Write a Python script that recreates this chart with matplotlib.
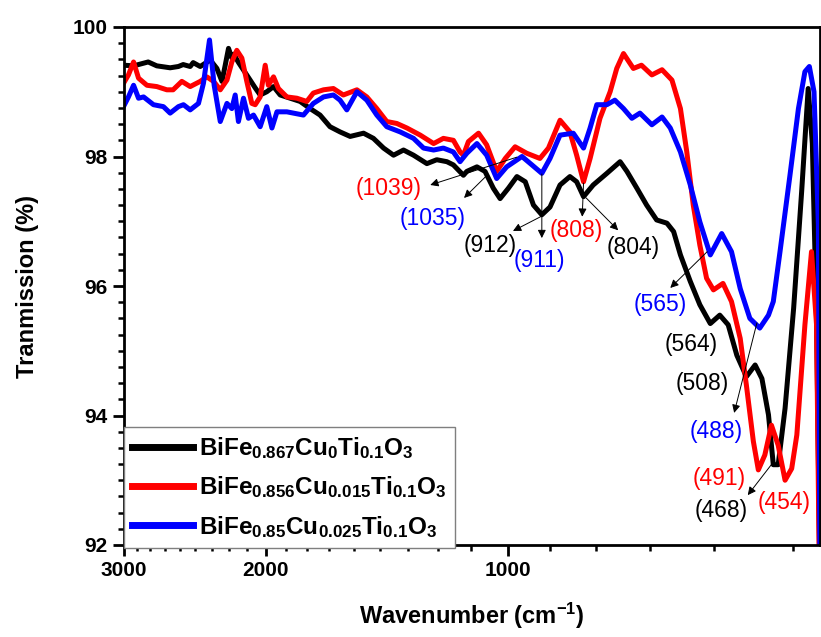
import numpy as np
import matplotlib
matplotlib.use('Agg')
import matplotlib.pyplot as plt
from matplotlib.ticker import FixedLocator, FixedFormatter, NullFormatter, MultipleLocator

plt.rcParams['font.family'] = ['Liberation Sans', 'DejaVu Sans']
plt.rcParams['mathtext.fontset'] = 'custom'
plt.rcParams['mathtext.rm'] = 'Liberation Sans:bold'
plt.rcParams['mathtext.bf'] = 'Liberation Sans:bold'
plt.rcParams['mathtext.it'] = 'Liberation Sans:bold'
plt.rcParams['mathtext.default'] = 'bf'

# spectra (wavenumber cm-1, transmission %)
wn_black = [3000, 2915, 2796, 2728, 2626, 2565, 2530, 2480, 2459, 2410, 2342, 2298, 2265,
            2244, 2223, 2202, 2190, 2160, 2090, 2060, 2031, 1993, 1955, 1918, 1864, 1812,
            1761, 1712, 1664, 1617, 1571, 1512, 1470, 1428, 1388, 1349, 1311, 1262, 1227,
            1192, 1170, 1137, 1126, 1094, 1069, 1044, 1024, 1000, 976, 953, 931, 909, 888,
            863, 839, 823, 807, 785, 755, 727, 713, 693, 674, 655, 636, 624, 612, 595, 579,
            562, 547, 534, 521, 507, 494.5, 485, 476, 469.5, 463, 454, 443, 433, 425, 420,
            415, 411]
t_black = [99.41, 99.40, 99.46, 99.40, 99.37, 99.39, 99.42, 99.39, 99.45, 99.39, 99.49, 99.36,
           99.16, 99.41, 99.67, 99.52, 99.58, 99.45, 99.18, 99.06, 98.95, 99.00, 99.08, 98.95,
           98.90, 98.85, 98.74, 98.64, 98.46, 98.38, 98.31, 98.36, 98.28, 98.13, 98.02, 98.10,
           98.02, 97.89, 97.95, 97.92, 97.87, 97.71, 97.77, 97.84, 97.77, 97.51, 97.35, 97.51,
           97.69, 97.61, 97.25, 97.10, 97.22, 97.56, 97.69, 97.61, 97.38, 97.56, 97.74, 97.92,
           97.77, 97.51, 97.25, 97.02, 96.97, 96.84, 96.48, 96.07, 95.71, 95.42, 95.55, 95.40,
           94.93, 94.60, 94.78, 94.57, 94.01, 93.24, 93.24, 94.11, 95.66, 97.46, 99.05, 98.2,
           95.5, 91.5]

wn_red = [3000, 2958, 2915, 2874, 2806, 2728, 2651, 2604, 2540, 2480, 2410, 2365, 2320, 2276,
          2233, 2202, 2171, 2140, 2110, 2080, 2060, 2031, 2002, 1984, 1955, 1928, 1882, 1829,
          1778, 1745, 1695, 1648, 1602, 1541, 1498, 1456, 1415, 1375, 1336, 1286, 1238, 1204,
          1170, 1148, 1137, 1121, 1089, 1064, 1034, 1009, 981, 949, 914, 892, 863, 839, 823,
          807, 792, 770, 748, 734, 720, 700, 684, 664, 645, 627, 612, 601, 590, 579, 568, 557,
          542, 529, 516, 507, 497, 490, 481, 472, 463, 454, 445.5, 439, 429, 421, 415, 412]
t_red = [99.13, 99.26, 99.46, 99.21, 99.10, 99.08, 99.03, 99.03, 99.16, 99.08, 99.16, 99.23,
         99.16, 99.03, 99.18, 99.46, 99.64, 99.52, 99.16, 98.82, 98.80, 98.92, 99.41, 99.10,
         99.23, 99.05, 98.92, 98.90, 98.85, 98.98, 99.03, 99.05, 98.95, 99.03, 98.92, 98.74,
         98.54, 98.51, 98.44, 98.33, 98.20, 98.28, 98.25, 98.07, 98.02, 98.23, 98.36, 98.18,
         97.77, 97.97, 98.15, 98.05, 97.97, 98.13, 98.56, 98.38, 98.02, 97.61, 97.97, 98.59,
         99.00, 99.36, 99.59, 99.36, 99.41, 99.26, 99.34, 99.18, 98.74, 98.07, 97.25, 96.63,
         96.12, 95.94, 96.04, 95.76, 95.19, 94.47, 93.60, 93.16, 93.39, 93.85, 93.54, 93.00,
         93.18, 93.70, 95.40, 96.53, 95.40, 91.9]

wn_blue = [3000, 2958, 2915, 2874, 2833, 2754, 2677, 2626, 2565, 2528, 2480, 2422, 2388, 2347,
           2316, 2276, 2233, 2202, 2181, 2161, 2130, 2100, 2070, 2031, 1993, 1964, 1936, 1882,
           1847, 1795, 1745, 1695, 1648, 1617, 1586, 1541, 1498, 1456, 1415, 1362, 1311, 1274,
           1238, 1204, 1170, 1148, 1126, 1094, 1064, 1034, 1005, 962, 935, 909, 888, 863, 831,
           807, 792, 777, 755, 738, 720, 703, 687, 664, 645, 630, 612, 595, 579, 562, 544, 529,
           516, 502, 488, 476, 469.5, 460.6, 447.7, 437, 429, 423.6, 418, 412.8, 411]
t_blue = [98.77, 98.92, 99.10, 98.90, 98.92, 98.80, 98.77, 98.67, 98.77, 98.80, 98.72, 98.82,
          99.13, 99.80, 99.10, 98.54, 98.82, 98.74, 98.95, 98.54, 98.90, 98.59, 98.64, 98.46,
          98.77, 98.44, 98.69, 98.69, 98.67, 98.64, 98.82, 98.92, 98.95, 98.87, 98.72, 99.00,
          98.87, 98.64, 98.46, 98.38, 98.28, 98.13, 98.10, 98.13, 98.07, 97.92, 98.05, 98.20,
          98.02, 97.66, 97.84, 98.00, 97.87, 97.74, 97.97, 98.33, 98.36, 98.13, 98.44, 98.80,
          98.80, 98.87, 98.74, 98.59, 98.67, 98.49, 98.61, 98.44, 98.07, 97.56, 96.99, 96.48,
          96.81, 96.53, 95.96, 95.50, 95.35, 95.55, 95.76, 96.53, 97.71, 98.74, 99.31, 99.39,
          99.00, 96.94, 91.5]

labels = [r'BiFe$_{0.867}$Cu$_{0}$Ti$_{0.1}$O$_{3}$',
          r'BiFe$_{0.856}$Cu$_{0.015}$Ti$_{0.1}$O$_{3}$',
          r'BiFe$_{0.85}$Cu$_{0.025}$Ti$_{0.1}$O$_{3}$']

# peak labels: text, colour, text position, arrow tail (on curve) or None, arrow head
peaks = [
    ('(1039)', 'red', (1409, 97.51), (976, 97.99), (1250, 97.56)),
    ('(1035)', 'blue', (1240, 97.05), (1063, 97.71), (1135, 97.36)),
    ('(912)', 'black', (1054, 96.63), (909, 97.08), (987, 96.85)),
    ('(911)', 'blue', (916, 96.39), (909, 97.73), (909, 96.74)),
    ('(808)', 'red', (824, 96.86), (807, 97.59), (810, 97.07)),
    ('(804)', 'black', (700, 96.60), (801, 97.36), (731, 96.86)),
    ('(565)', 'blue', (649, 95.72), (567, 96.53), (630, 95.97)),
    ('(564)', 'black', (594, 95.09), None, None),
    ('(508)', 'black', (575, 94.49), None, None),
    ('(488)', 'blue', (553, 93.75), (492, 95.43), (525, 94.04)),
    ('(491)', 'red', (548, 93.02), None, None),
    ('(468)', 'black', (545, 92.54), (469.5, 93.28), (505, 92.77)),
    ('(454)', 'red', (455, 92.65), None, None),
]

fig = plt.figure(figsize=(8.21, 6.37), dpi=100)
ax = fig.add_axes([123.5 / 821, 1 - 545 / 637, 696 / 821, 518 / 637])

ax.plot(wn_black, t_black, color='black', lw=3.6, label=labels[0], solid_joinstyle='round')
ax.plot(wn_red, t_red, color='red', lw=3.6, label=labels[1], solid_joinstyle='round')
ax.plot(wn_blue, t_blue, color='blue', lw=3.6, label=labels[2], solid_joinstyle='round')

for txt, col, pos, tail, head in peaks:
    ax.text(pos[0], pos[1], txt, color=col, fontsize=16.5, ha='center', va='center')
    if tail is not None:
        ax.annotate('', xy=head, xytext=tail,
                    arrowprops=dict(arrowstyle='-|>', color='black', lw=0.7,
                                    mutation_scale=12, shrinkA=0, shrinkB=0))

ax.set_xscale('log')
ax.set_xlim(3000, 411.5)
ax.set_ylim(92, 100)

ax.xaxis.set_major_locator(FixedLocator([3000, 2000, 1000]))
ax.xaxis.set_major_formatter(FixedFormatter(['3000', '2000', '1000']))
minor = [m - k * 1000 / 9 for m in (3000, 2000) for k in range(1, 9)]
minor += [1000 - k * 1000 / 9 for k in range(1, 6)]
ax.xaxis.set_minor_locator(FixedLocator(minor))
ax.xaxis.set_minor_formatter(NullFormatter())
ax.yaxis.set_major_locator(MultipleLocator(2))
ax.yaxis.set_minor_locator(MultipleLocator(0.25))

ax.tick_params(which='major', direction='out', length=8, width=2, labelsize=15,
               top=False, right=False)
ax.tick_params(which='minor', direction='out', length=4.5, width=1.8, top=False, right=False)
for lab in ax.get_xticklabels() + ax.get_yticklabels():
    lab.set_fontweight('bold')
for sp in ax.spines.values():
    sp.set_linewidth(2)

ax.set_xlabel('Wavenumber (cm$^{-1}$)', fontsize=17, fontweight='bold', labelpad=15)
ax.set_ylabel('Tranmission (%)', fontsize=17, fontweight='bold', labelpad=24)

leg = ax.legend(loc='lower left', bbox_to_anchor=(0, -0.006), borderaxespad=0,
                prop={'size': 17.5, 'weight': 'bold'}, handlelength=2.5, handletextpad=0.25,
                labelspacing=0.55, borderpad=0.35, fancybox=False, framealpha=1)
leg.get_frame().set_edgecolor('#7f7f7f')
leg.get_frame().set_linewidth(1.0)
for line in leg.get_lines():
    line.set_linewidth(5)

fig.savefig('out.png', dpi=100)
